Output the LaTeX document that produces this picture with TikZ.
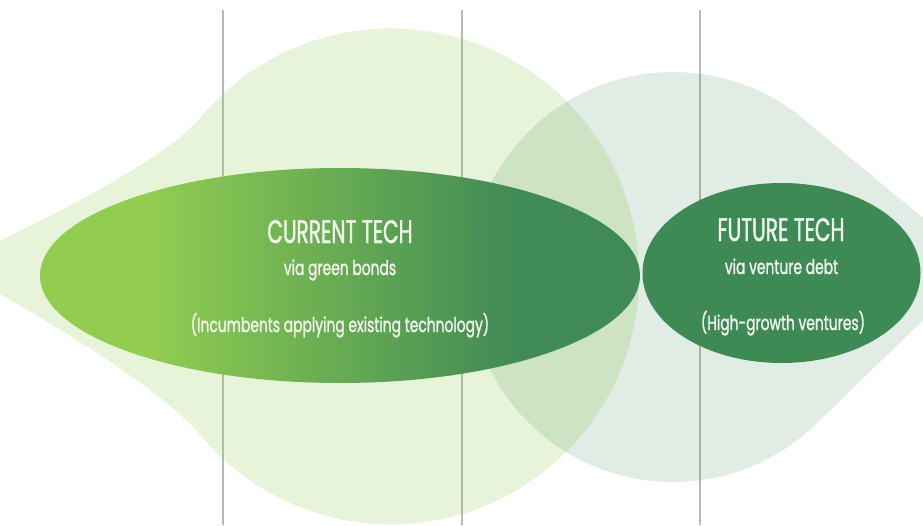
\documentclass[tikz,border=0pt]{standalone}
\usepackage{fontspec}
\setmainfont{Poppins}[FakeStretch=0.68, FakeBold=1.2]
\newfontfamily\headfont{Poppins}[FakeStretch=0.62, FakeBold=1.2]

\definecolor{bondgreen}{RGB}{146,205,80}
\definecolor{ventgreen}{RGB}{62,138,85}
\definecolor{sage}{RGB}{79,143,96}
\definecolor{rulegray}{RGB}{185,185,185}
\definecolor{paper}{RGB}{242,245,238}

\pgfdeclarehorizontalshading{techfade}{100bp}{color(0bp)=(bondgreen); color(34bp)=(bondgreen); color(65bp)=(ventgreen); color(100bp)=(ventgreen)}

\tikzset{
  techtitle/.style={text=paper, font=\headfont\fontsize{18.5}{21}\selectfont, anchor=base, inner sep=0pt},
  techsub/.style={text=paper, font=\fontsize{11.6}{13}\selectfont, anchor=base, inner sep=0pt},
}

\begin{document}
\begin{tikzpicture}[x=0.02cm, y=0.02cm]

\useasboundingbox (0,0) rectangle (923,525);
\clip (0,0) rectangle (923,525);

% divider lines
\foreach \x in {223,462,700}
    \draw [rulegray, line width=0.8pt] (\x,515) -- (\x,0);

% current tech bulb
\fill [bondgreen, opacity=0.22] (-50,259) .. controls (50,309) and (162,362) .. (201,408)
    arc [start angle=140, end angle=-140, radius=248]
    .. controls (162,136) and (50,204) .. (-50,259) -- cycle;

% current tech ellipse
\shade [shading=techfade] (340,249.5) ellipse [x radius=300, y radius=107.5];

% future tech bulb
\fill [sage, opacity=0.17] (801,408) -- (980,260) -- (818,103)
    arc [start angle=-45, end angle=-308.7, radius=205] -- cycle;

% future tech ellipse
\fill [ventgreen] (781.5,252) ellipse [x radius=139, y radius=90];

\node [techtitle] (curtitle) at (340,282) {CURRENT TECH};
\node [techsub]   (curvia)   at (340,250) {via green bonds};
\node [techsub]   (curnote)  at (340,193) {(Incumbents applying existing technology)};

\node [techtitle] (futtitle) at (781,284) {FUTURE TECH};
\node [techsub]   (futvia)   at (781.5,251) {via venture debt};
\node [techsub]   (futnote)  at (783,195) {(High-growth ventures)};

\end{tikzpicture}
\end{document}
